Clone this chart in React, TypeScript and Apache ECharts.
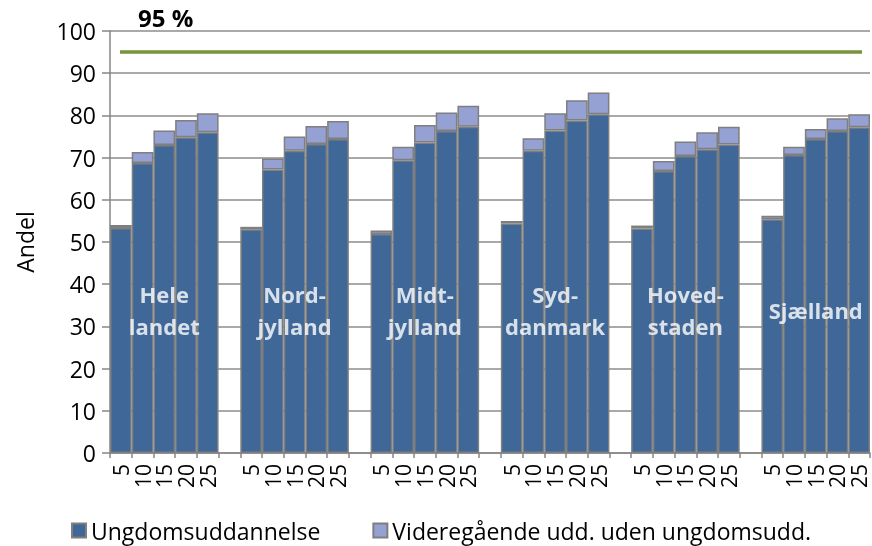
import React, { useEffect, useRef } from "react";
import * as echarts from "echarts";

const groupNames = ["Hele\nlandet", "Nord-\njylland", "Midt-\njylland", "Syd-\ndanmark", "Hoved-\nstaden", "Sjælland"];
const yearLabels = ["5", "10", "15", "20", "25"];

const ungdom: number[][] = [
  [53.3, 68.7, 73.0, 74.8, 76.0],
  [53.0, 67.2, 71.6, 73.2, 74.4],
  [51.9, 69.4, 73.6, 76.3, 77.3],
  [54.4, 71.6, 76.4, 78.8, 80.3],
  [53.2, 66.8, 70.4, 72.0, 73.1],
  [55.4, 70.6, 74.4, 76.3, 77.2],
];
const videregaaende: number[][] = [
  [0.7, 2.6, 3.4, 4.1, 4.5],
  [0.6, 2.6, 3.4, 4.3, 4.3],
  [0.8, 3.2, 4.1, 4.4, 5.0],
  [0.6, 3.0, 4.1, 4.8, 5.1],
  [0.7, 2.4, 3.4, 4.0, 4.2],
  [0.8, 2.0, 2.4, 3.0, 3.1],
];
const seriesNames = ["Ungdomsuddannelse", "Videregående udd. uden ungdomsudd."];
const target = 95;
const groupLabelValue = 34;
const yTicks = { min: 0, max: 100, interval: 10 };

const FONT = "'Open Sans', Lato, sans-serif";

function buildCategories(): string[] {
  const cats: string[] = [];
  groupNames.forEach((_, gi) => {
    yearLabels.forEach((y) => cats.push(y));
    if (gi < groupNames.length - 1) cats.push("");
  });
  return cats;
}

function buildSeries(values: number[][]): (number | string)[] {
  const out: (number | string)[] = [];
  values.forEach((g, gi) => {
    g.forEach((v) => out.push(v));
    if (gi < values.length - 1) out.push("-");
  });
  return out;
}

export default function App() {
  const ref = useRef<HTMLDivElement>(null);
  useEffect(() => {
    if (!ref.current) return;
    const chart = echarts.init(ref.current, null, { renderer: "svg" });
    const categories = buildCategories();
    const stride = yearLabels.length + 1;
    const labelData = groupNames.map((n, gi) => ({
      value: [gi * stride + 2, groupLabelValue],
      name: n,
    }));
    const barBase = {
      type: "bar",
      stack: "total",
      barCategoryGap: "0%",
      barGap: "0%",
    };
    chart.setOption({
      animation: false,
      textStyle: { fontFamily: FONT },
      grid: { left: 110, right: 2, top: 31, bottom: 93, containLabel: false },
      legend: {
        data: seriesNames,
        left: 66,
        top: 514,
        itemWidth: 14,
        itemHeight: 14,
        itemGap: 52,
        icon: "rect",
        textStyle: { fontSize: 23, color: "#000", fontFamily: FONT },
      },
      graphic: [
        {
          type: "text",
          left: 138,
          top: 5,
          style: { text: `${target} %`, font: `bold 24px ${FONT}`, fill: "#000" },
        },
      ],
      xAxis: {
        type: "category",
        data: categories,
        boundaryGap: true,
        axisLine: { lineStyle: { color: "#868686", width: 1.5 } },
        axisTick: { show: true, interval: 0, length: 5, lineStyle: { color: "#868686", width: 1.5 } },
        axisLabel: { interval: 0, rotate: 90, fontSize: 21, color: "#000", margin: 11, fontFamily: FONT },
      },
      yAxis: {
        type: "value",
        min: yTicks.min,
        max: yTicks.max,
        interval: yTicks.interval,
        name: "Andel",
        nameLocation: "middle",
        nameGap: 74,
        nameTextStyle: { fontSize: 23, color: "#000", fontFamily: FONT },
        axisLine: { show: true, lineStyle: { color: "#868686", width: 1.5 } },
        axisTick: { show: true, length: 8, lineStyle: { color: "#868686", width: 1.5 } },
        axisLabel: { fontSize: 23, color: "#000", margin: 14, fontFamily: FONT },
        splitLine: { lineStyle: { color: "#8c8c8c", width: 1.5 } },
      },
      series: [
        {
          ...barBase,
          name: seriesNames[0],
          data: buildSeries(ungdom),
          itemStyle: { color: "#3F6797", borderColor: "#7f7f7f", borderWidth: 1.5 },
          markLine: {
            silent: true,
            symbol: "none",
            label: { show: false },
            lineStyle: { color: "#77933C", width: 3.5, type: "solid" },
            data: [[{ x: 120, yAxis: target }, { x: 862, yAxis: target }]],
          },
        },
        {
          ...barBase,
          name: seriesNames[1],
          data: buildSeries(videregaaende),
          itemStyle: { color: "#95A0D3", borderColor: "#7f7f7f", borderWidth: 1.5 },
        },
        {
          type: "scatter",
          data: labelData,
          symbolSize: 0,
          z: 10,
          silent: true,
          label: {
            show: true,
            position: "inside",
            formatter: (p: any) => p.name,
            color: "#fff",
            fontWeight: "bold",
            fontSize: 22,
            lineHeight: 32,
            fontFamily: FONT,
          },
        },
      ],
    });
    return () => chart.dispose();
  }, []);
  return (
    <div
      ref={ref}
      style={{ position: "fixed", left: 0, top: 0, width: 872, height: 546 }}
    />
  );
}
